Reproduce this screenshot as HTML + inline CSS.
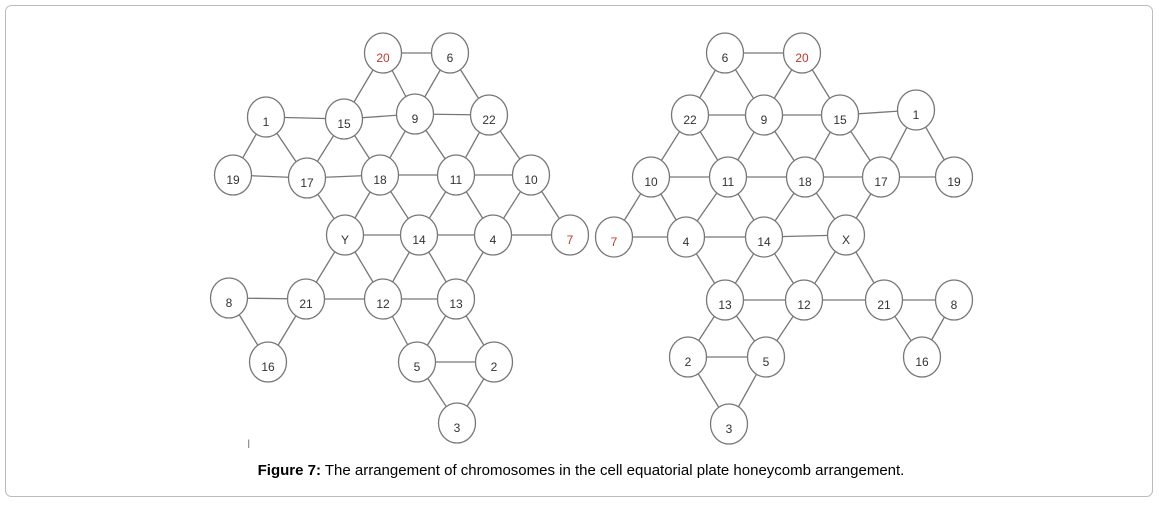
<!DOCTYPE html>
<html><head><meta charset="utf-8"><style>
body{margin:0;background:#fff;width:1159px;height:503px;overflow:hidden;font-family:"Liberation Sans",sans-serif}
</style></head><body>
<svg width="1159" height="503" xmlns="http://www.w3.org/2000/svg">
<rect x="5.5" y="5.5" width="1147" height="491" rx="6" fill="#fff" stroke="#bbb"/>
<g id="g" stroke="#777" stroke-width="1.3" fill="none"></g>
<text x="247" y="448" font-size="12" fill="#888">I</text>
<text x="581" y="475" font-size="15" text-anchor="middle" fill="#000"><tspan font-weight="bold">Figure 7:</tspan> The arrangement of chromosomes in the cell equatorial plate honeycomb arrangement.</text>
</svg>
<script>
const L={"20":[383,53,1],"6":[450,53],"1":[266,117],"15":[344,119],"9":[415,114],"22":[489,115],"19":[233,175],"17":[307,178],"18":[380,175],"11":[456,175],"10":[531,175],"Y":[345,235],"14":[419,235],"4":[493,235],"7":[570,235,1],"8":[229,298],"21":[306,299],"12":[383,299],"13":[456,299],"16":[268,362],"5":[417,362],"2":[494,362],"3":[457,423]};
const R={"6":[725,53],"20":[802,53,1],"22":[690,115],"9":[764,115],"15":[840,115],"1":[916,110],"10":[651,177],"11":[728,177],"18":[805,177],"17":[881,177],"19":[954,177],"7":[614,237,1],"4":[686,237],"14":[764,237],"X":[846,235],"13":[725,300],"12":[804,300],"21":[884,300],"8":[954,300],"2":[688,357],"5":[766,357],"16":[922,357],"3":[729,424]};
const EL="20-6 20-15 20-9 6-9 6-22 1-15 15-9 9-22 1-19 1-17 15-17 15-18 9-18 9-11 22-11 22-10 19-17 17-18 18-11 11-10 17-Y 18-Y 18-14 11-14 11-4 10-4 10-7 Y-14 14-4 4-7 Y-21 Y-12 14-12 14-13 4-13 8-21 8-16 21-16 21-12 12-13 12-5 13-5 13-2 5-2 5-3 2-3";
const ER="6-20 6-22 6-9 20-9 20-15 22-9 9-15 15-1 22-10 22-11 9-11 9-18 15-18 15-17 1-17 1-19 10-11 11-18 18-17 17-19 10-7 10-4 11-4 11-14 18-14 18-X 17-X 7-4 4-14 14-X 4-13 14-13 14-12 X-12 X-21 13-12 12-21 21-8 21-16 8-16 13-2 13-5 12-5 2-5 2-3 5-3";
const g=document.getElementById('g');let s='';
function draw(N,E){E.split(' ').forEach(e=>{const[a,b]=e.split('-');const p=N[a],q=N[b];s+=`<line x1="${p[0]}" y1="${p[1]}" x2="${q[0]}" y2="${q[1]}"/>`;});
for(const k in N){const p=N[k];s+=`<ellipse cx="${p[0]}" cy="${p[1]}" rx="18.5" ry="20" fill="#fff" stroke="#777"/><text x="${p[0]}" y="${p[1]+9}" font-size="12" text-anchor="middle" fill="${p[2]?'#c0392b':'#333'}" stroke="none" font-family="Liberation Sans,sans-serif">${k}</text>`;}}
draw(L,EL);draw(R,ER);g.innerHTML=s;
</script>
</body></html>
